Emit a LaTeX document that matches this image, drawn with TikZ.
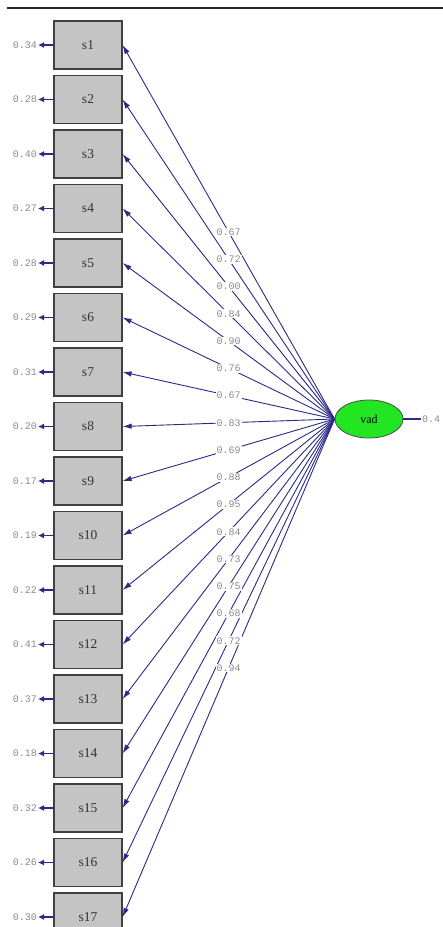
\documentclass[tikz,border=0pt]{standalone}
\usepackage{fontspec}
\newfontfamily\valfont{Liberation Mono}
\newfontfamily\varfont{Liberation Serif}
\usetikzlibrary{arrows.meta,shapes.geometric}
\definecolor{pathblue}{HTML}{2A2A88}
\definecolor{valgray}{HTML}{8A8A8A}
\definecolor{boxgray}{HTML}{C4C4C4}
\definecolor{vadgreen}{HTML}{22E622}
\begin{document}
\begin{tikzpicture}[x=1pt,y=-1pt,
    obs/.style={draw=black!75,line width=1.2pt,fill=boxgray,minimum width=68pt,minimum height=48pt,inner sep=0pt,font=\varfont\fontsize{13.5}{13.5}\selectfont,text=black!80},
    val/.style={font=\valfont\fontsize{10}{10}\selectfont,text=valgray,inner sep=1pt},
    load/.style={pathblue,line width=.9pt,-{Latex[length=9pt,width=5.5pt]}},
    err/.style={pathblue,line width=1.8pt,-{Latex[length=6pt,width=6pt]}}
  ]
    \useasboundingbox (0,0) rectangle (443,927);
    \draw[black!85,line width=2pt] (7,8) -- (443,8); % top rule
    \node[ellipse,draw=black!70,line width=.8pt,fill=vadgreen,minimum width=68pt,minimum height=38pt,inner sep=0pt,font=\varfont\fontsize{12}{12}\selectfont] (vad) at (369,419) {vad};
    \coordinate (hub) at (vad.west);
    \node[val,anchor=west] (evad) at (421,419) {0.4};
    \draw[pathblue,line width=1.5pt] (vad.east) -- (evad.west); % latent variance
    % observed variables with their error terms
    \foreach \i/\e in {1/0.34,2/0.28,3/0.40,4/0.27,5/0.28,6/0.29,7/0.31,8/0.20,9/0.17,
                       10/0.19,11/0.22,12/0.41,13/0.37,14/0.18,15/0.32,16/0.26,17/0.30}{
      \node[obs] (s\i) at (88,{45+(\i-1)*54.5}) {s\i};
      \node[val,anchor=east] (e\i) at (38,{45+(\i-1)*54.5}) {\e};
      \draw[err] (s\i.west) -- (e\i.east);
      \draw[load] (hub) -- (s\i.east);
    }
    % loadings, on top of the lines
    \foreach \i/\l in {1/0.67,2/0.72,3/0.00,4/0.84,5/0.90,6/0.76,7/0.67,8/0.83,9/0.69,
                       10/0.88,11/0.95,12/0.84,13/0.73,14/0.75,15/0.68,16/0.72,17/0.94}
      \path (hub) -- (s\i.east) node[val,midway,fill=white] {\l};
\end{tikzpicture}
\end{document}
